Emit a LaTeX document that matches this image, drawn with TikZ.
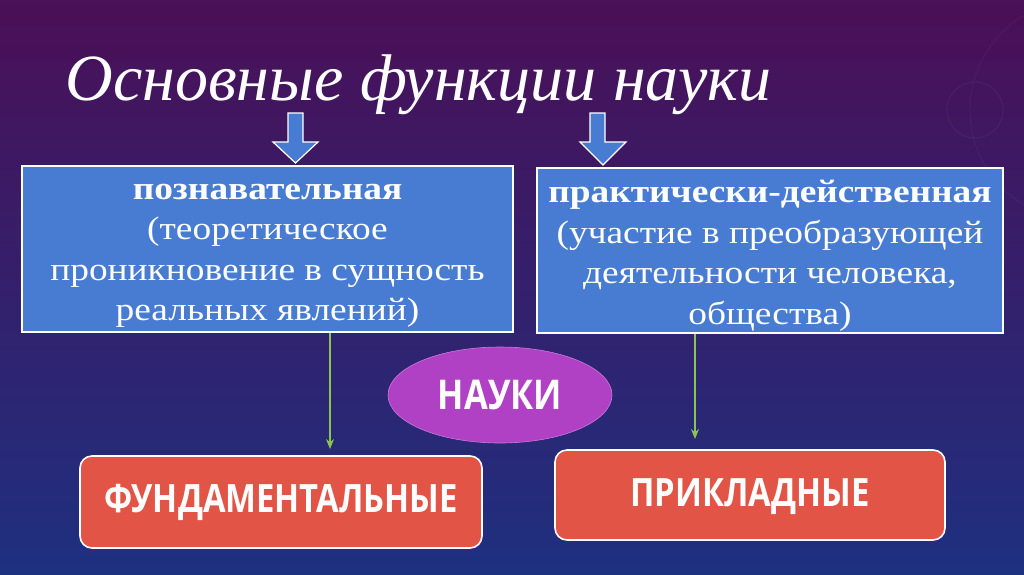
\documentclass[tikz,border=0pt]{standalone}
\usepackage{fontspec}
\setmainfont{Liberation Serif}
\newfontfamily\boxserif[FakeStretch=1.15]{Liberation Serif}
\newfontfamily\sansb[FakeStretch=0.84]{Open Sans}
\usetikzlibrary{shapes.geometric,arrows.meta}
\definecolor{bgtop}{RGB}{74,16,88}
\definecolor{bgmid}{RGB}{48,28,112}
\definecolor{bgbot}{RGB}{30,48,128}
\definecolor{boxblue}{RGB}{72,124,210}
\definecolor{redbox}{RGB}{226,84,70}
\definecolor{purp}{RGB}{176,64,196}
\definecolor{gline}{RGB}{140,196,80}
\tikzset{
  bluebox/.style={draw=white,line width=1.6pt,fill=boxblue,inner sep=0pt},
  boxtext/.style={text=white,align=center,font=\boxserif\fontsize{32.5}{40.5}\selectfont},
  redrect/.style={draw=white,line width=1.6pt,fill=redbox,rounded corners=12pt,inner sep=0pt},
  redtext/.style={text=white,font=\sansb\bfseries\fontsize{39}{42}\selectfont},
  blockarrow/.style={fill=boxblue,draw=white,line width=1.2pt},
  garrow/.style={draw=gline,line width=1.2pt,-{Stealth[length=10pt,width=8pt]}},
}
\begin{document}
\begin{tikzpicture}[x=1pt,y=-1pt]
\useasboundingbox (0,0) rectangle (1024,574);
% background
\shade[top color=bgtop,middle color=bgmid,bottom color=bgbot] (0,0) rectangle (1024,574);
\fill[bgtop,opacity=0.35] (0,0) rectangle (1024,60);
\draw[white,opacity=0.05,line width=0.8pt] (975,110) circle (28);
\draw[white,opacity=0.04,line width=0.8pt] (1080,110) circle (110);
% title
\node[text=white,font=\itshape\fontsize{66}{72}\selectfont,anchor=base west] (title) at (62,100) {Основные функции науки};
% block arrows
\path[blockarrow] (288,113) -- (303,113) -- (303,142) -- (318,142) -- (295.5,163) -- (273,142) -- (288,142) -- cycle;
\path[blockarrow] (590,113) -- (605,113) -- (605,142) -- (626,142) -- (603,165) -- (580,142) -- (590,142) -- cycle;
% blue boxes
\node[bluebox,minimum width=491pt,minimum height=166pt] (lbox) at (267.5,249) {};
\node[boxtext] (ltext) at (267.5,256) {\textbf{познавательная}\\(теоретическое\\проникновение в сущность\\реальных явлений)};
\node[bluebox,minimum width=466pt,minimum height=165pt] (rbox) at (770,250.5) {};
\node[boxtext] (rtext) at (770,256) {\textbf{практически-действенная}\\(участие в преобразующей\\деятельности человека,\\общества)};
% ellipse
\node[ellipse,fill=purp,draw=purp!70!white,line width=0.6pt,minimum width=224pt,minimum height=96pt,text=white,font=\sansb\bfseries\fontsize{41}{44}\selectfont] (nauki) at (500,395) {НАУКИ};
% red boxes
\node[redrect,minimum width=402pt,minimum height=92pt] (fund) at (281,502) {};
\node[redtext] (fundt) at (281,502) {ФУНДАМЕНТАЛЬНЫЕ};
\node[redrect,minimum width=390pt,minimum height=90pt] (prik) at (750,495) {};
\node[redtext] (prikt) at (750,497) {ПРИКЛАДНЫЕ};
% green connectors
\coordinate (g1) at (330,449);
\coordinate (g2) at (695,439);
\draw[garrow] (lbox.south -| g1) -- (g1);
\draw[garrow] (rbox.south -| g2) -- (g2);
\end{tikzpicture}
\end{document}
